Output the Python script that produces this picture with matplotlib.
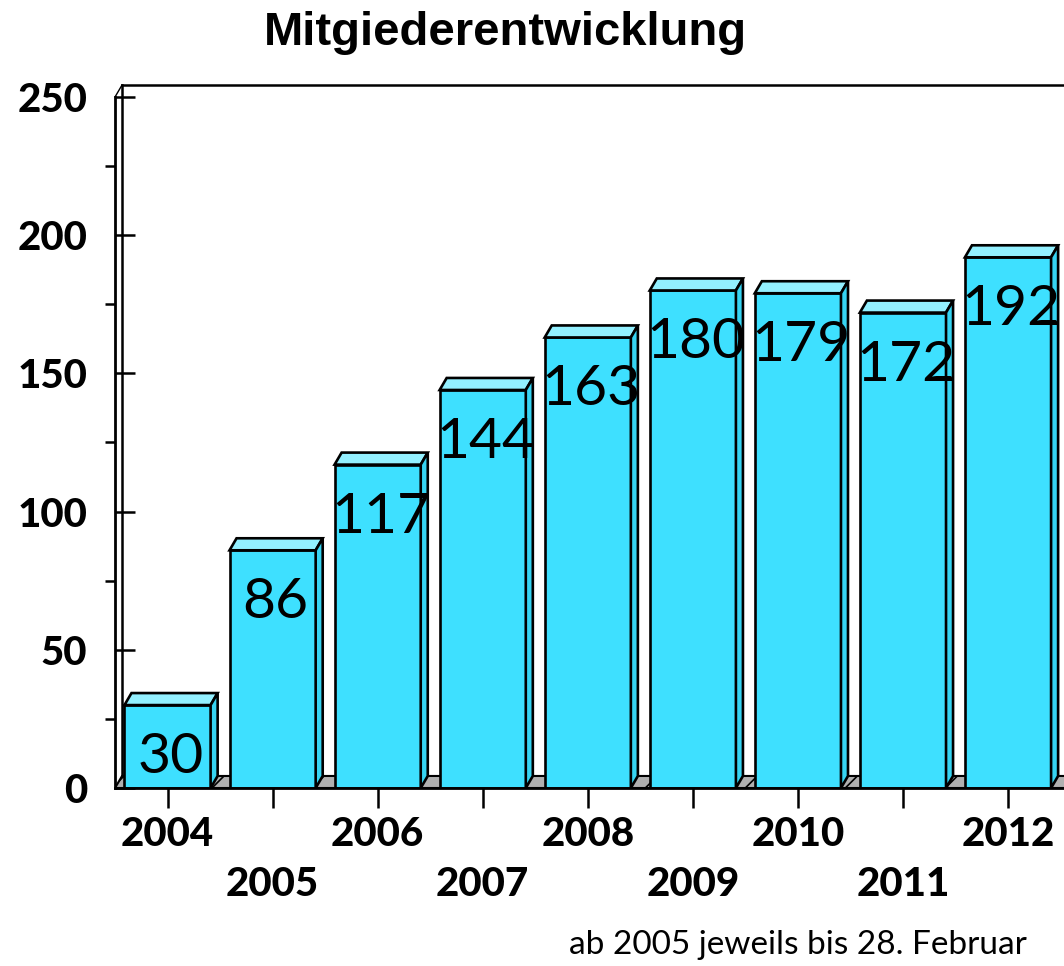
import numpy as np
import matplotlib
matplotlib.use("Agg")
import matplotlib.pyplot as plt
from matplotlib.patches import Polygon
from matplotlib.ticker import MultipleLocator

# Daten
years = ["2004", "2005", "2006", "2007", "2008", "2009", "2010", "2011", "2012"]
members = [30, 86, 117, 144, 163, 180, 179, 172, 192]
y_ticks = [0, 50, 100, 150, 200, 250]

title = "Mitgiederentwicklung"
note = "ab 2005 jeweils bis 28. Februar"

# Stil
FRONT = "#3ee0ff"
TOP = "#93f0ff"
SIDE = "#36d4f2"
FLOOR = "#b0b0b0"
BAR_W = 0.82
DX, DY = 0.067, 4.35   # Tiefe der Pseudo-3D-Darstellung (Dateneinheiten)
XMAX = 8.533

plt.rcParams["hatch.linewidth"] = 1.2

fig = plt.figure(figsize=(10.64, 9.66), dpi=100)
ax = fig.add_axes([115 / 1064, (966 - 788) / 966, (1064 - 115) / 1064, (788 - 97) / 966])
ax.set_xlim(-0.5, XMAX)
ax.set_ylim(0, 250)

x = np.arange(len(years))

# Boden
floor = Polygon([(-0.5, 0), (XMAX + 1, 0), (XMAX + 1 + DX, DY), (-0.5 + DX, DY)],
                closed=True, facecolor=FLOOR, edgecolor="black", hatch="/", lw=1.5,
                zorder=1)
ax.add_patch(floor)

# Rueckwand
ax.plot([-0.5 + DX, -0.5 + DX], [DY, 250 + DY], color="black", lw=1.8, clip_on=False, zorder=1)
ax.plot([-0.5 + DX, XMAX + 0.1], [250 + DY, 250 + DY], color="black", lw=1.8, clip_on=False, zorder=1)
ax.plot([-0.5, -0.5 + DX], [250, 250 + DY], color="black", lw=1.0, clip_on=False, zorder=1)

# Balken
ax.bar(x, members, width=BAR_W, color=FRONT, edgecolor="black", lw=1.9, zorder=3)
for xi, v in zip(x, members):
    l, r = xi - BAR_W / 2, xi + BAR_W / 2
    top = Polygon([(l, v), (r, v), (r + DX, v + DY), (l + DX, v + DY)],
                  closed=True, facecolor=TOP, edgecolor="black", lw=1.9, zorder=3,
                  clip_on=False)
    side = Polygon([(r, 0), (r + DX, DY), (r + DX, v + DY), (r, v)],
                   closed=True, facecolor=SIDE, edgecolor="black", lw=1.9, zorder=3,
                   clip_on=False)
    ax.add_patch(top)
    ax.add_patch(side)
    ax.annotate(str(v), xy=(xi, v), xytext=(3, -68), textcoords="offset pixels",
                ha="center", va="baseline", fontsize=41, family="Lato", zorder=4)

# Achsen
for s in ["top", "right"]:
    ax.spines[s].set_visible(False)
for s in ["left", "bottom"]:
    ax.spines[s].set_linewidth(2.0)
    ax.spines[s].set_zorder(5)

ax.set_yticks(y_ticks)
ax.set_yticklabels([str(t) for t in y_ticks], fontsize=29, fontweight="black", family="Lato")
ax.yaxis.set_minor_locator(MultipleLocator(25))
ax.tick_params(axis="y", which="major", direction="in", length=14.5, width=1.8, pad=20)
ax.tick_params(axis="y", which="minor", direction="out", length=7, width=1.8)

ax.set_xticks(x)
ax.set_xticklabels([])
ax.tick_params(axis="x", which="major", direction="out", length=14.5, width=1.8)
for i, yr in enumerate(years):
    off = -47 if i % 2 == 0 else -97
    ax.annotate(yr, xy=(i, 0), xycoords=("data", "axes fraction"), xytext=(0, off),
                textcoords="offset pixels", ha="center", va="center",
                fontsize=29, fontweight="black", family="Lato", annotation_clip=False)

fig.text(505 / 1064, 1 - 33 / 966, title, ha="center", va="center",
         fontsize=34, fontweight="bold", family="Liberation Sans")
fig.text(1027 / 1064, 1 - 945 / 966, note, ha="right", va="center",
         fontsize=24, family="Lato")

fig.savefig("out.png", dpi=100)
